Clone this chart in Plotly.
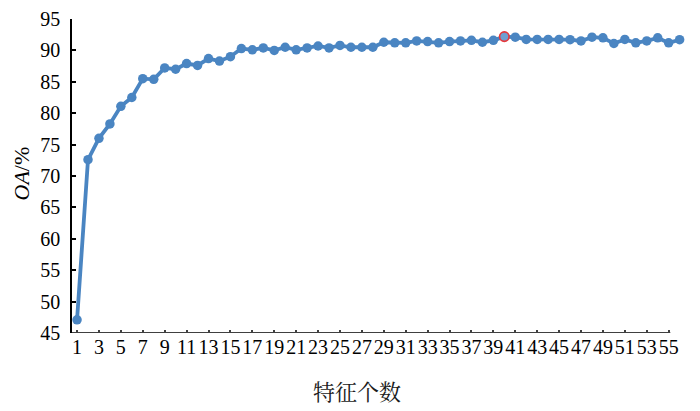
import plotly.graph_objects as go

features = list(range(1, 57))
oa = [47.1, 72.6, 76.0, 78.3, 81.1, 82.5, 85.5, 85.4, 87.2, 87.0,
      87.9, 87.6, 88.7, 88.3, 89.0, 90.3, 90.1, 90.4, 90.0, 90.5,
      90.1, 90.4, 90.7, 90.4, 90.8, 90.5, 90.5, 90.5, 91.3, 91.2,
      91.2, 91.5, 91.4, 91.2, 91.4, 91.5, 91.6, 91.3, 91.6, 92.2,
      92.1, 91.75, 91.75, 91.75, 91.75, 91.7, 91.5, 92.1, 92.0, 91.1,
      91.75, 91.2, 91.5, 92.0, 91.2, 91.7]
best_feature = 40
x_tick_vals = list(range(1, 56, 2))
y_tick_vals = list(range(45, 96, 5))

blue = "#4a85c2"

fig = go.Figure()
fig.add_trace(go.Scatter(
    x=features, y=oa, mode="lines+markers",
    line=dict(color=blue, width=3.8),
    marker=dict(color=blue, size=9.5),
    cliponaxis=False, showlegend=False,
))
fig.add_trace(go.Scatter(
    x=[best_feature], y=[oa[best_feature - 1]], mode="markers",
    marker=dict(color="#6f9fd0", size=9.5, line=dict(color="#e8383b", width=1.6)),
    cliponaxis=False, showlegend=False,
))

fig.add_shape(type="line", xref="x", yref="y", x0=0.54, x1=55.15, y0=45, y1=45,
              line=dict(color="#404040", width=2))

serif = "Liberation Serif"
# the page body has an 8px margin, so the figure is drawn 8px smaller
fig.update_layout(
    template="none",
    font=dict(family=serif, color="black"),
    width=692, height=403,
    margin=dict(l=64, r=16, t=10.6, b=78.4),
    plot_bgcolor="white", paper_bgcolor="white",
    xaxis=dict(range=[0.54, 56.4], tickmode="array", tickvals=x_tick_vals,
               ticktext=[str(v) for v in x_tick_vals], tickangle=0,
               automargin=False,
               showgrid=False, zeroline=False, showline=False,
               ticks="inside", ticklen=3, tickwidth=1.5, tickcolor="#404040",
               tickfont=dict(family=serif, size=20, color="black")),
    yaxis=dict(range=[45, 95], tickmode="array", tickvals=y_tick_vals,
               automargin=False,
               showgrid=False, zeroline=False, showline=True,
               linecolor="black", linewidth=1.5,
               ticks="inside", ticklen=4, tickwidth=1.5, tickcolor="black",
               ticklabelstandoff=6,
               tickfont=dict(family=serif, size=20, color="black")),
    annotations=[
        dict(text="<i>OA</i>/%", xref="paper", yref="paper", x=0, y=0.508,
             xanchor="center", yanchor="middle", xshift=-51, textangle=-90,
             showarrow=False, font=dict(family=serif, size=22, color="black")),
        dict(text="特征个数", xref="paper", yref="paper", x=0.466, y=-0.183,
             xanchor="center", yanchor="middle", showarrow=False,
             font=dict(family="Noto Serif CJK SC", size=22, color="#1a1a1a")),
    ],
)

fig.write_html("out.html")
